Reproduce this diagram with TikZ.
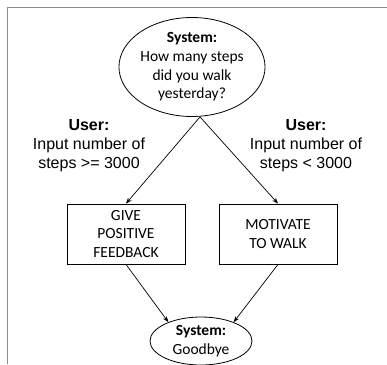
\documentclass[tikz,border=0pt]{standalone}
\usepackage{fontspec}
\setmainfont{Carlito}
\newfontfamily\arialfont{Liberation Sans}
\usepackage{tikz}
\usetikzlibrary{arrows.meta,shapes}

\begin{document}
\begin{tikzpicture}[x=1pt,y=-1pt,
    txt/.style={align=center,font=\fontsize{15.5}{18.7}\selectfont},
    said/.style={txt,draw,ellipse,inner sep=0pt,line width=0.8pt},
    act/.style={txt,draw,rectangle,inner sep=0pt,minimum width=118pt,minimum height=60pt,line width=0.8pt},
    user/.style={align=center,font=\arialfont\fontsize{16}{19}\selectfont},
    flow/.style={-{Stealth[length=6pt,width=4.5pt]},line width=0.7pt}]
  \useasboundingbox (0,0) rectangle (387,364);
  \draw [black!45,line width=1.6pt] (7.5,364) -- (7.5,7.5) -- (387,7.5);
  \node (ask) [said,minimum width=141pt,minimum height=99pt] at (192,67) {\textbf{System:}\\How many steps\\did you walk\\yesterday?};
  \node (userhi) [user] at (89,146) {\textbf{User:}\\Input number of\\steps >= 3000};
  \node (userlo) [user] at (306,146) {\textbf{User:}\\Input number of\\steps < 3000};
  \node (give) [act] at (126,234) {GIVE\\POSITIVE\\FEEDBACK};
  \node (motivate) [act] at (278,234) {MOTIVATE\\TO WALK};
  \node (bye) [said,minimum width=102pt,minimum height=48pt] at (201,341) {\textbf{System:}\\Goodbye};
  \draw [flow] ([xshift=8pt]ask.south) -- (give.north);
  \draw [flow] ([xshift=8pt]ask.south) -- (motivate.north);
  \draw [flow] (give.south) -- (bye.150);
  \draw [flow] (motivate.south) -- (bye.30);
\end{tikzpicture}
\end{document}
